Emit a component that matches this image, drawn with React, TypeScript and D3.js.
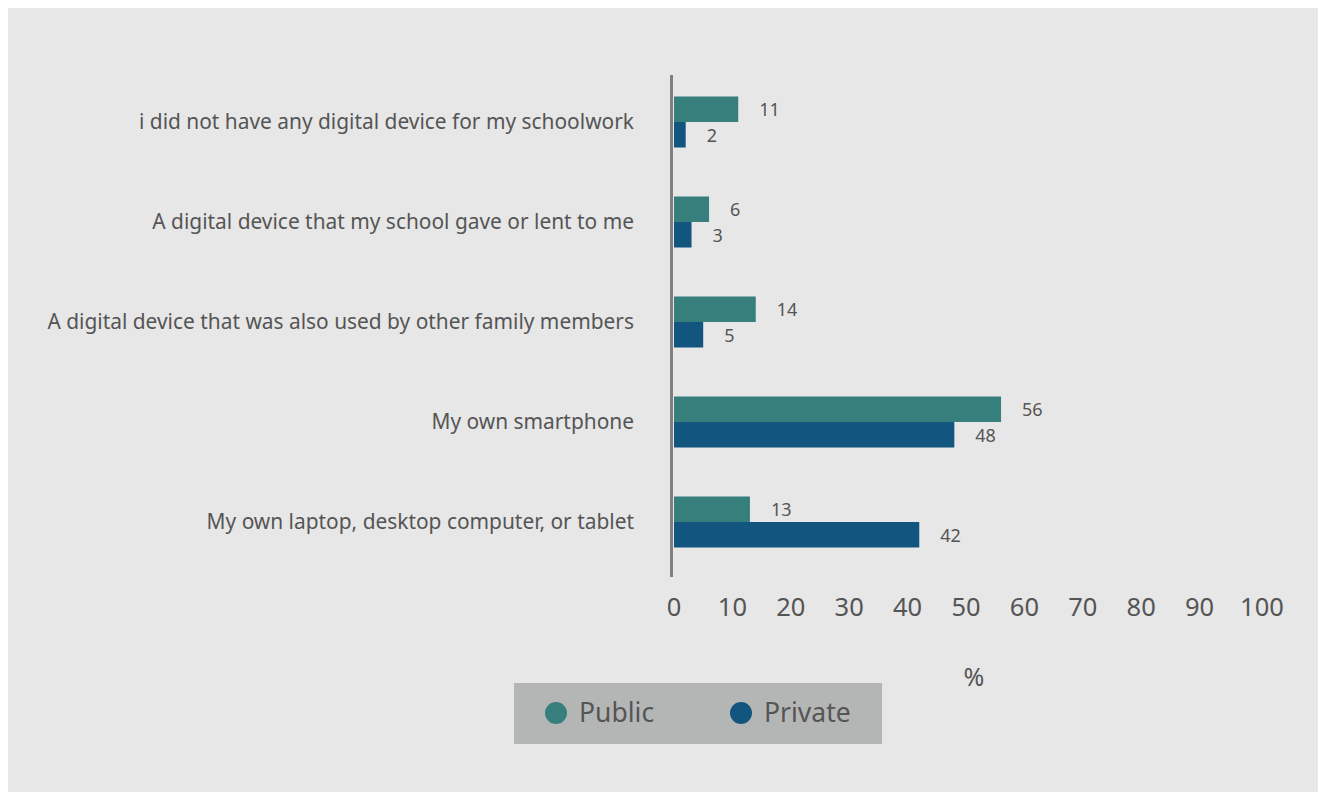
import React, { useEffect } from "react";
import * as d3 from "d3";

const categories = [
  "i did not have any digital device for my schoolwork",
  "A digital device that my school gave or lent to me",
  "A digital device that was also used by other family members",
  "My own smartphone",
  "My own laptop, desktop computer, or tablet",
];
const publicValues = [11, 6, 14, 56, 13];
const privateValues = [2, 3, 5, 48, 42];
const seriesNames = ["Public", "Private"];
const seriesColors = ["#367F7C", "#12557F"];
const xTicks = [0, 10, 20, 30, 40, 50, 60, 70, 80, 90, 100];
const xAxisTitle = "%";

const W = 1318;
const H = 784;
const FONT = "'Noto Sans', sans-serif";
const TEXT = "#555555";

export default function App() {
  useEffect(() => {
    document.body.style.overflow = "hidden";
  }, []);

  // svg origin is at page (8,8)
  const x = d3.scaleLinear().domain([0, 100]).range([666, 1250]);
  const y = d3.scaleBand<string>().domain(categories).range([64, 564]).paddingInner(0).paddingOuter(0);
  const barH = 25.5;
  const groupH = barH * 2;

  return (
    <svg width={W} height={H} style={{ display: "block" }} fontFamily={FONT}>
      <rect x={0} y={0} width={W} height={H} fill="#E7E7E7" />
      {categories.map((c, i) => {
        const cy = (y(c) as number) + y.bandwidth() / 2;
        const top = cy - groupH / 2;
        const vals = [publicValues[i], privateValues[i]];
        return (
          <g key={c}>
            <text x={626} y={cy - 1} textAnchor="end" dominantBaseline="central" fontSize={20.9} fill={TEXT}>
              {c}
            </text>
            {vals.map((v, j) => (
              <g key={j}>
                <rect
                  x={x(0)}
                  y={top + j * barH}
                  width={x(v) - x(0)}
                  height={barH}
                  fill={seriesColors[j]}
                />
                <text
                  x={x(v) + 21}
                  y={top + j * barH + barH / 2}
                  dominantBaseline="central"
                  fontSize={18}
                  fill={TEXT}
                >
                  {v}
                </text>
              </g>
            ))}
          </g>
        );
      })}
      <line x1={663.5} x2={663.5} y1={67} y2={569} stroke="#808080" strokeWidth={3} />
      {xTicks.map((t) => (
        <text key={t} x={x(t) + (t === 100 ? 4 : 0)} y={598} textAnchor="middle" dominantBaseline="central" fontSize={25.5} fill={TEXT}>
          {t}
        </text>
      ))}
      <text x={966} y={668} textAnchor="middle" dominantBaseline="central" fontSize={25} fill={TEXT}>
        {xAxisTitle}
      </text>
      <rect x={506} y={675} width={368} height={61} fill="#B4B6B6" />
      {seriesNames.map((s, i) => (
        <g key={s}>
          <circle cx={548 + i * 185} cy={705} r={11} fill={seriesColors[i]} />
          <text x={571 + i * 185} y={704} dominantBaseline="central" fontSize={26.5} fill={TEXT}>
            {s}
          </text>
        </g>
      ))}
    </svg>
  );
}
